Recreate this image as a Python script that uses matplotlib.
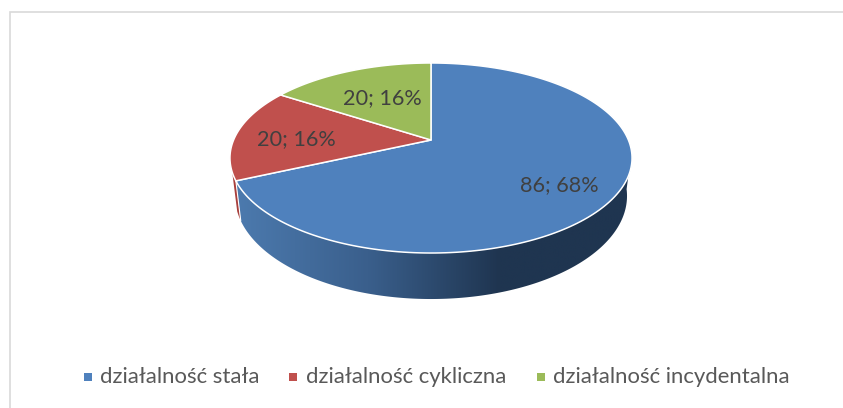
import numpy as np
import matplotlib
matplotlib.use('Agg')
import matplotlib.pyplot as plt
from matplotlib.patches import Polygon, Rectangle
from matplotlib.colors import LinearSegmentedColormap

categories = ['działalność stała', 'działalność cykliczna', 'działalność incydentalna']
values = [86, 20, 20]
percents = [68, 16, 16]
colors = ['#4f81bd', '#c0504d', '#9bbb59']

plt.rcParams['font.family'] = ['Lato', 'DejaVu Sans']

# perspective of the pie, in pixels
cx, cy = 431, 140
A, B, k = 197.4, 91.6, 0.1895


def top(frac):
    t = 2 * np.pi * np.asarray(frac)
    u, v = np.sin(t), -np.cos(t)
    d = 1 - k * v
    return np.column_stack([cx + A * u / d, cy + B * v / d])


def bottom(frac):
    t = 2 * np.pi * np.asarray(frac)
    u, v = np.sin(t), -np.cos(t)
    d = 1 - k * v
    return np.column_stack([cx + 0.975 * A * u / d, cy + 36.4 + 1.085 * B * v / d])


fig = plt.figure(figsize=(8.43, 4.08), dpi=100)
ax = fig.add_axes([0, 0, 1, 1])
ax.set_xlim(0, 843)
ax.set_ylim(408, 0)
ax.axis('off')

ax.add_patch(Rectangle((10, 12), 880, 440, fc='white', ec='#d9d9d9', lw=1.2))

fracs = np.cumsum([0] + values) / sum(values)

# side wall of the big slice
f = np.linspace(0.27, fracs[1], 200)
wall = np.vstack([top(f), bottom(f)[::-1]])
grad = LinearSegmentedColormap.from_list('wall', ['#4c7aae', '#3a5f8c', '#1f3550', '#1f3550'])
im = ax.imshow(np.linspace(0, 1, 256)[None, :], cmap=grad, extent=(236, 632, 300, 140), aspect='auto', zorder=1)
ax.set_xlim(0, 843)
ax.set_ylim(408, 0)
im.set_clip_path(Polygon(wall, transform=ax.transData))

# sliver of the red slice on the side
f = np.linspace(fracs[1], fracs[1] + 0.014, 10)
ax.add_patch(Polygon(np.vstack([top(f), bottom(f)[::-1]]), fc='#a8403d', ec='none', zorder=1.5))
edge = np.vstack([top([fracs[1]]), bottom([fracs[1]])])
ax.plot(edge[:, 0], edge[:, 1], color='white', lw=0.8, zorder=1.6)

for i in range(3):
    f = np.linspace(fracs[i], fracs[i + 1], 200)
    pts = np.vstack([[cx, cy], top(f)])
    ax.add_patch(Polygon(pts, fc=colors[i], ec='white', lw=1.1, joinstyle='round', zorder=2))

label_pos = [(559, 185), (296, 139), (382, 98)]
for i in range(3):
    ax.text(label_pos[i][0], label_pos[i][1], '%d; %d%%' % (values[i], percents[i]),
            fontsize=15.6, color='#404040', ha='center', va='center', zorder=3)

# legend
marks = [88, 293, 541]
texts = [100, 306, 553]
for i in range(3):
    ax.add_patch(Rectangle((marks[i] - 4, 373), 8, 8, fc=colors[i], ec='none'))
    ax.text(texts[i], 377, categories[i], fontsize=15.9, color='#595959', ha='left', va='center')

fig.savefig('out.png', dpi=100)
